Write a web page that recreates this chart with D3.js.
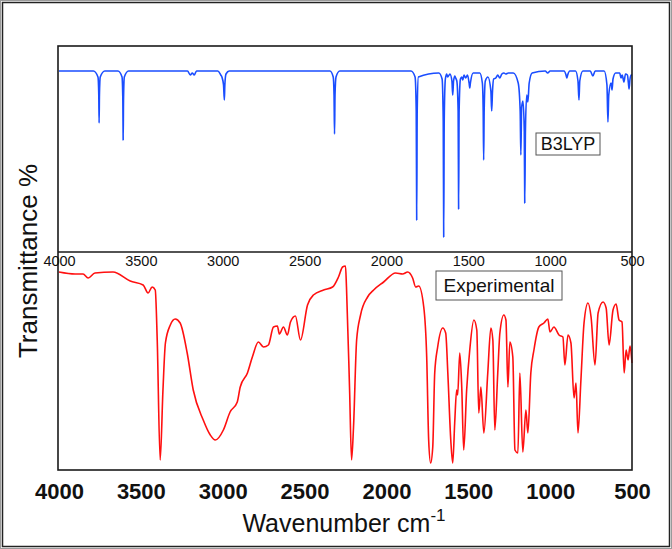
<!DOCTYPE html>
<html>
<head>
<meta charset="utf-8">
<script src="https://cdnjs.cloudflare.com/ajax/libs/d3/7.8.5/d3.min.js"></script>
<style>
  body { margin: 0; background: #fff; }
  text { font-family: "Liberation Sans", Arial, sans-serif; }
</style>
</head>
<body>
<div id="chart"></div>
<script>

// wavenumber tick labels
var tick_values = [4000, 3500, 3000, 2500, 2000, 1500, 1000, 500];

// B3LYP calculated spectrum: [wavenumber, transmittance]
var b3lyp_points = [
  [4000,100],[3790,100],[3762,97],[3757,88],[3755,74],[3753,88],[3748,97],[3720,100],
  [3640,100],[3615,97],[3610,85],[3608,65.5],[3606,85],[3601,97],[3575,100],
  [3215,100],[3198,98],[3186,99],[3174,98],[3160,100],
  [3030,100],[3012,98],[3005,97],[2995,93],[2990,85.5],[2987,93],[2980,98.5],[2960,100],
  [2345,100],[2325,97],[2320,88],[2317,68.5],[2314,88],[2308,97],[2285,100],
  [1850,100],[1825,97],[1818,80],[1815,25.5],[1812,80],[1805,97],
  [1680,99],[1660,96],[1653,75],[1650,17],[1647,75],[1640,96],
  [1632,98.5],[1626,97],[1612,98.5],[1600,95],[1595,88],[1590,95],[1582,97.5],[1577,96.5],
  [1570,95],[1562,80],[1559,31],[1556,80],[1548,96],[1540,97],[1534,95.5],[1526,98],
  [1516,96.5],[1505,98],[1495,94],[1491,91.5],[1487,94],[1470,99],
  [1430,99],[1414,94],[1409,80],[1406,55.5],[1403,80],[1396,95],[1380,97],[1362,90],
  [1357,80],[1352,90],[1345,96],[1332,96.5],[1320,98],[1308,96.5],[1295,98.5],[1282,99],
  [1271,98.5],[1255,99],[1225,99],
  [1195,94],[1183,80],[1179,58],[1174,82],[1166,85],[1158,70],[1155,34],[1151,70],
  [1143,88],[1136,84.5],[1128,94],[1110,99],
  [1030,100],[1015,99],[1000,100],[915,100],[903,98],[898,96.5],[893,98],[880,100],
  [845,100],[830,95],[824,85.5],[819,95],[800,100],[755,100],[739,97.5],[725,100],
  [670,100],[653,93],[647,74.5],[642,88],[628,94],[622,90.5],[616,96],[600,99],
  [575,99],[567,96.5],[560,98],[549,94.5],[540,98.5],[528,98],[522,94],[518,91],
  [512,96],[505,98],[500,98]
];

// experimental spectrum: [wavenumber, transmittance]
var experimental_points = [
  [4000,99],[3902,98],[3853,98],[3822,96],[3780,98.5],[3670,99],[3565,94.5],[3486,92.5],
  [3456,88.5],[3431,91.5],[3412,90],[3400,65],[3382,5],[3365,40],[3350,63.5],[3320,72.5],
  [3290,75.5],[3260,73.5],[3217,58.5],[3180,40],[3119,25],[3076,17.5],[3045,15],[2996,20],
  [2955,29],[2911,34],[2893,41.5],[2849,48.5],[2819,56.5],[2782,64],[2751,61.5],[2721,62.5],
  [2690,71.5],[2666,72],[2654,68],[2629,71.5],[2605,67.5],[2586,74],[2556,77],[2525,65],
  [2482,82.5],[2446,87.5],[2384,90],[2329,91.5],[2293,96.5],[2268,101.5],[2250,102],
  [2244,91.5],[2225,40],[2213,5],[2201,21.5],[2182,65],[2158,77.5],[2115,86.5],[2078,90],
  [2017,94],[1944,98.5],[1901,98],[1870,99],[1840,96],[1821,91.5],[1803,92],[1772,81.5],
  [1754,56.5],[1742,15],[1730,3.5],[1717,11.5],[1705,48.5],[1687,61.5],[1656,71],
  [1638,68.5],[1625,48.5],[1607,15],[1595,3.5],[1583,23.5],[1571,40],[1565,37.5],
  [1552,58.5],[1540,41.5],[1528,10],[1510,40],[1491,60],[1466,75],[1448,70],[1436,28.5],
  [1423,41.5],[1405,18.5],[1381,48.5],[1362,71],[1350,65],[1338,20],[1320,48.5],
  [1307,68.5],[1283,77.5],[1270,75],[1258,41.5],[1246,64],[1228,56.5],[1215,10],
  [1197,8.5],[1185,48.5],[1167,9],[1148,30],[1136,18.5],[1118,48.5],[1099,60],
  [1069,71.5],[1038,73.5],[1014,75.5],[1001,69],[977,71.5],[946,67.5],[922,66.5],
  [910,52.5],[891,67.5],[873,63.5],[854,36],[842,43.5],[830,18.5],[812,45],[793,73.5],
  [769,83.5],[750,76.5],[726,52.5],[707,78.5],[677,84],[658,81],[640,62.5],[616,80],
  [597,83],[579,75],[561,74],[548,48.5],[536,60],[524,55],[512,62],[500,53.5]
];

var width = 672, height = 549;
var plot_left = 58, plot_right = 632;
var top_y0 = 46, mid_y = 252, bottom_y1 = 470;

var svg = d3.select('#chart')
  .append('svg')
  .attr('width', width)
  .attr('height', height);

// outer frame
svg.append('rect')
  .attr('x', 0.5).attr('y', 0.5)
  .attr('width', width - 1).attr('height', height - 1)
  .attr('fill', 'none').attr('stroke', '#9a9a9a').attr('stroke-width', 1);
svg.append('rect')
  .attr('x', 2.5).attr('y', 2.5)
  .attr('width', width - 5).attr('height', height - 5)
  .attr('fill', 'none').attr('stroke', '#222').attr('stroke-width', 1.5);

var x = d3.scaleLinear()
  .domain([4000, 500])
  .range([plot_left + 1, plot_right]);

var y_top = d3.scaleLinear().domain([0, 100]).range([271, 71]);
var y_bottom = d3.scaleLinear().domain([0, 100]).range([470, 270]);

var line_top = d3.line()
  .x(function(d){ return x(d[0]); })
  .y(function(d){ return y_top(d[1]); })
  .curve(d3.curveMonotoneX);

var line_bottom = d3.line()
  .x(function(d){ return x(d[0]); })
  .y(function(d){ return y_bottom(d[1]); })
  .curve(d3.curveMonotoneX);

var sort_desc = function(arr){
  return arr.slice().sort(function(a, b){ return a[0] - b[0]; });
};

svg.append('path')
  .datum(sort_desc(b3lyp_points))
  .attr('d', line_top)
  .attr('fill', 'none')
  .attr('stroke', '#1a4dff')
  .attr('stroke-width', 1.6)
  .attr('stroke-linejoin', 'round');

svg.append('path')
  .datum(sort_desc(experimental_points))
  .attr('d', line_bottom)
  .attr('fill', 'none')
  .attr('stroke', '#ff1010')
  .attr('stroke-width', 1.6)
  .attr('stroke-linejoin', 'round');

// panel boxes
svg.append('rect')
  .attr('x', plot_left).attr('y', top_y0)
  .attr('width', plot_right - plot_left).attr('height', bottom_y1 - top_y0)
  .attr('fill', 'none').attr('stroke', '#1a1a1a').attr('stroke-width', 1.6);
svg.append('line')
  .attr('x1', plot_left).attr('x2', plot_right)
  .attr('y1', mid_y).attr('y2', mid_y)
  .attr('stroke', '#1a1a1a').attr('stroke-width', 1.6);

// axis for the calculated panel, labels just under the divider
var axis_top = d3.axisBottom(x)
  .tickValues(tick_values)
  .tickSize(0)
  .tickPadding(0)
  .tickFormat(d3.format('d'));

var g_top = svg.append('g')
  .attr('transform', 'translate(0,' + mid_y + ')')
  .call(axis_top);
g_top.select('.domain').remove();
g_top.selectAll('text')
  .attr('y', 14)
  .attr('dy', 0)
  .style('font-size', '14.5px')
  .style('font-family', '"Liberation Sans", Arial, sans-serif')
  .attr('fill', '#111');

// main wavenumber axis
var axis_bottom = d3.axisBottom(x)
  .tickValues(tick_values)
  .tickSize(0)
  .tickFormat(d3.format('d'));

var g_bottom = svg.append('g')
  .attr('transform', 'translate(0,' + bottom_y1 + ')')
  .call(axis_bottom);
g_bottom.select('.domain').remove();
g_bottom.selectAll('text')
  .attr('y', 29)
  .attr('dy', 0)
  .style('font-size', '22px')
  .style('font-weight', 'bold')
  .style('font-family', '"Liberation Sans", Arial, sans-serif')
  .attr('fill', '#111');

// axis titles
var x_title = svg.append('text')
  .attr('x', 344)
  .attr('y', 532)
  .attr('text-anchor', 'middle')
  .style('font-size', '25px')
  .attr('fill', '#111');
x_title.append('tspan').text('Wavenumber cm');
x_title.append('tspan')
  .attr('dy', -11)
  .style('font-size', '17px')
  .text('-1');

svg.append('text')
  .attr('transform', 'translate(37,261) rotate(-90)')
  .attr('text-anchor', 'middle')
  .style('font-size', '26px')
  .attr('fill', '#111')
  .text('Transmittance %');

// legend boxes
function label_box(cx, cy, w, h, txt, size){
  svg.append('rect')
    .attr('x', cx - w / 2).attr('y', cy - h / 2)
    .attr('width', w).attr('height', h)
    .attr('fill', '#fff')
    .attr('stroke', '#555')
    .attr('stroke-width', 1);
  svg.append('text')
    .attr('x', cx).attr('y', cy)
    .attr('dy', '0.36em')
    .attr('text-anchor', 'middle')
    .style('font-size', size + 'px')
    .attr('fill', '#111')
    .text(txt);
}

label_box(568, 144, 64, 22, 'B3LYP', 18);
label_box(499, 285.5, 126, 29, 'Experimental', 19);

</script>
</body>
</html>
